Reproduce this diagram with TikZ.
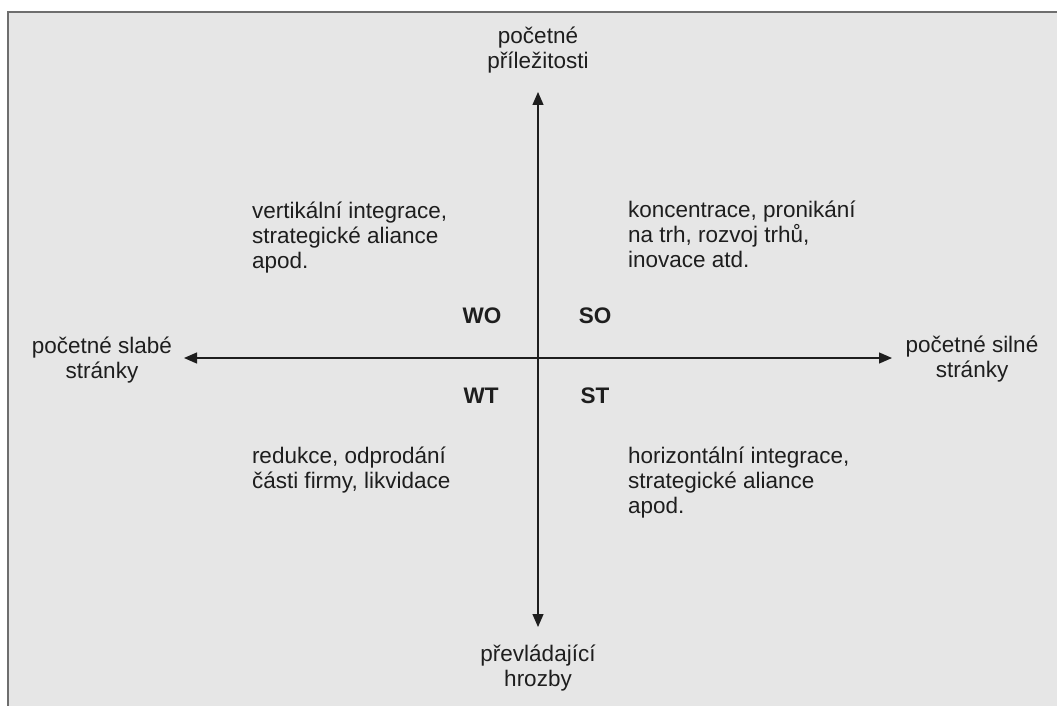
\documentclass[tikz,border=0pt]{standalone}
\usepackage{fontspec}
\setmainfont{Liberation Sans}
\usetikzlibrary{arrows.meta}
\definecolor{bg}{HTML}{E6E6E6}
\definecolor{frame}{HTML}{6E6E6E}
\definecolor{ink}{HTML}{1E1E1E}
\tikzset{
  txt/.style={inner sep=0pt, outer sep=0pt, text=ink,
    font=\fontsize{22.5pt}{25pt}\selectfont},
  blockleft/.style={txt, align=left, anchor=north west},
  blockmid/.style={txt, align=center, anchor=north},
  quad/.style={txt, anchor=center, font=\fontsize{22.5pt}{25pt}\selectfont\bfseries},
  axis/.style={draw=ink, line width=1.3pt,
    {Triangle[length=13pt,width=11pt]}-{Triangle[length=13pt,width=11pt]}}
}
\newcommand{\fl}{\rule{0pt}{17pt}}
\begin{document}
\begin{tikzpicture}[x=1pt,y=-1pt]
\useasboundingbox (0,0) rectangle (1057,706);
\fill[white] (0,0) rectangle (1057,706);
\fill[bg] (8,12) rectangle (1057,706);
\draw[frame, line width=2pt] (8,706) -- (8,12) -- (1057,12);

% axes
\coordinate (L) at (184,358);
\coordinate (R) at (892,358);
\coordinate (T) at (538,92);
\coordinate (B) at (538,627);
\draw[axis] (L) -- (R);
\draw[axis] (T) -- (B);

% axis labels
\node[blockmid] (top) at (538,26.5) {\fl početné\\příležitosti};
\node[blockmid] (bottom) at (538,644.5) {\fl převládající\\hrozby};
\node[blockmid] (left) at (102,336.5) {\fl početné slabé\\stránky};
\node[blockmid] (right) at (972,335.5) {\fl početné silné\\stránky};

% quadrant names
\node[quad] (WO) at (482,316) {WO};
\node[quad] (SO) at (595,316) {SO};
\node[quad] (WT) at (481,396) {WT};
\node[quad] (ST) at (595,396) {ST};

% strategies
\node[blockleft] (wo) at (252,201.5) {\fl vertikální integrace,\\strategické aliance\\apod.};
\node[blockleft] (so) at (628,200) {\fl koncentrace, pronikání\\na trh, rozvoj trhů,\\inovace atd.};
\node[blockleft] (wt) at (252,446.5) {\fl redukce, odprodání\\části firmy, likvidace};
\node[blockleft] (st) at (628,446.5) {\fl horizontální integrace,\\strategické aliance\\apod.};
\end{tikzpicture}
\end{document}
